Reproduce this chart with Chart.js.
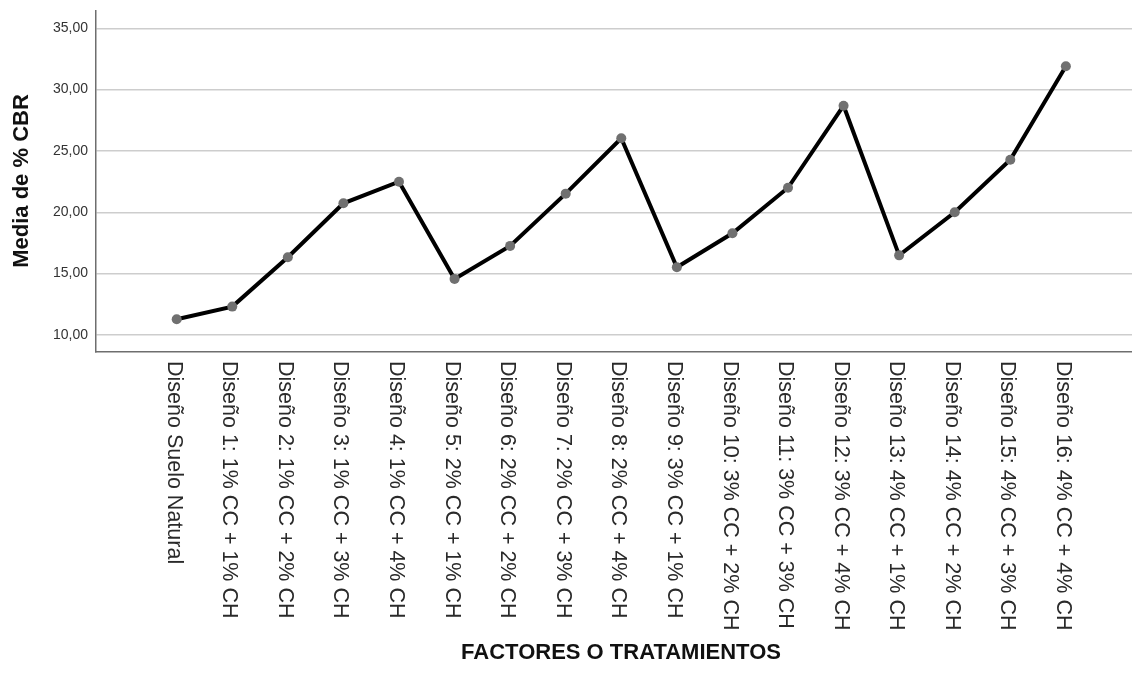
<!DOCTYPE html>
<html>
<head>
<meta charset="utf-8">
<script src="https://cdn.jsdelivr.net/npm/chart.js@4/dist/chart.umd.min.js"></script>
<style>
  html, body { margin: 0; padding: 0; background: #fff; }
  #wrap { width: 1132px; height: 673px; }
</style>
</head>
<body>
<div id="wrap"><canvas id="chart" width="1132" height="673"></canvas></div>
<script>
// Categories (x axis)
const categories = [
  "Diseño Suelo Natural",
  "Diseño 1: 1% CC + 1% CH",
  "Diseño 2: 1% CC + 2% CH",
  "Diseño 3: 1% CC + 3% CH",
  "Diseño 4: 1% CC + 4% CH",
  "Diseño 5: 2% CC + 1% CH",
  "Diseño 6: 2% CC + 2% CH",
  "Diseño 7: 2% CC + 3% CH",
  "Diseño 8: 2% CC + 4% CH",
  "Diseño 9: 3% CC + 1% CH",
  "Diseño 10: 3% CC + 2% CH",
  "Diseño 11: 3% CC + 3% CH",
  "Diseño 12: 3% CC + 4% CH",
  "Diseño 13: 4% CC + 1% CH",
  "Diseño 14: 4% CC + 2% CH",
  "Diseño 15: 4% CC + 3% CH",
  "Diseño 16: 4% CC + 4% CH",
];

// Media de % CBR per treatment
const cbrMeans = [11.28, 12.31, 16.34, 20.73, 22.49, 14.57, 17.26, 21.52, 26.03,
  15.52, 18.29, 22.0, 28.69, 16.49, 20.0, 24.29, 31.9];

const yTicks = [10, 15, 20, 25, 30, 35];
const xTitle = "FACTORES O TRATAMIENTOS";
const yTitle = "Media de % CBR";

const FONT = "'Liberation Sans', Arial, sans-serif";

// draws the rotated category labels and the axis titles
const labelsPlugin = {
  id: "spssLabels",
  afterDraw(chart) {
    const { ctx, chartArea } = chart;
    const xScale = chart.scales.x;
    ctx.save();
    ctx.fillStyle = "#2a2a2a";
    ctx.font = "21.5px " + FONT;
    ctx.textAlign = "left";
    ctx.textBaseline = "middle";
    categories.forEach((label, i) => {
      const px = xScale.getPixelForValue(i);
      ctx.save();
      ctx.translate(px - 3, chartArea.bottom + 9);
      ctx.rotate(Math.PI / 2);
      ctx.fillText(label, 0, 0);
      ctx.restore();
    });

    ctx.font = "bold 22px " + FONT;
    ctx.fillStyle = "#111";
    ctx.textAlign = "center";
    ctx.fillText(xTitle, 621, 653);

    ctx.save();
    ctx.translate(22, 181);
    ctx.rotate(-Math.PI / 2);
    ctx.fillText(yTitle, 0, 0);
    ctx.restore();
    ctx.restore();
  },
};

new Chart(document.getElementById("chart"), {
  type: "line",
  data: {
    datasets: [
      {
        data: cbrMeans.map((v, i) => ({ x: i, y: v })),
        borderColor: "#000",
        borderWidth: 4,
        pointRadius: 5,
        pointBackgroundColor: "#707070",
        pointBorderWidth: 0,
        tension: 0,
      },
    ],
  },
  options: {
    responsive: false,
    animation: false,
    devicePixelRatio: 1,
    layout: { autoPadding: false, padding: { top: 11, right: 0, left: 0, bottom: 0 } },
    plugins: { legend: { display: false }, tooltip: { enabled: false } },
    scales: {
      x: {
        type: "linear",
        min: -1.452,
        max: 17.19,
        ticks: { display: false },
        grid: { display: false },
        border: { display: true, color: "#6e6e6e", width: 1.5 },
        afterFit(scale) { scale.height = 673 - 352; },
      },
      y: {
        min: 8.61,
        max: 36.41,
        afterBuildTicks(scale) { scale.ticks = yTicks.map((v) => ({ value: v })); },
        ticks: {
          color: "#333",
          font: { family: FONT, size: 14 },
          padding: 8,
          callback: (v) => v.toFixed(2).replace(".", ","),
        },
        grid: { color: "#cdcdcd", lineWidth: 1.5, drawTicks: false },
        border: { display: true, color: "#6e6e6e", width: 1.5 },
        afterFit(scale) {
          scale.width = 96;
          scale.paddingTop = 0;
          scale.paddingBottom = 0;
        },
      },
    },
  },
  plugins: [labelsPlugin],
});
</script>
</body>
</html>
